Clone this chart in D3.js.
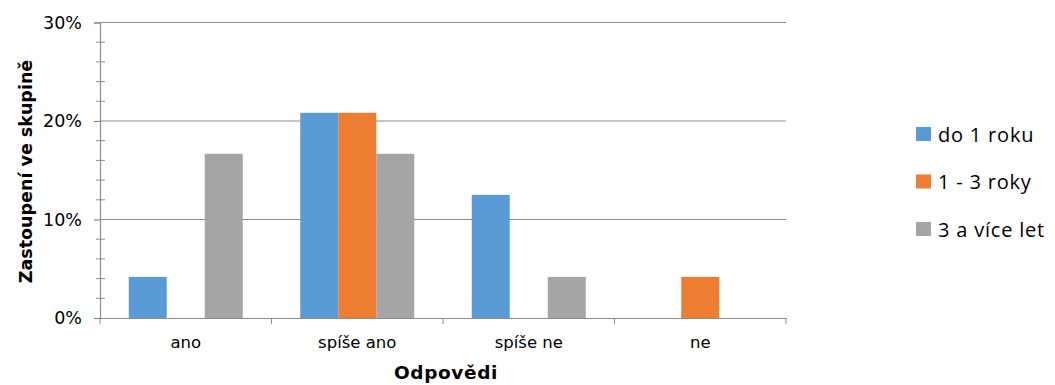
<!DOCTYPE html>
<html>
<head>
<meta charset="utf-8">
<script src="https://cdn.jsdelivr.net/npm/d3@7"></script>
<style>
  body { margin: 0; background: #fff; }
  svg { display: block; }
</style>
</head>
<body>
<svg id="chart" width="1055" height="385"></svg>
<script>
// Answer categories and the share of each group (percent)
const categories = ["ano", "spíše ano", "spíše ne", "ne"];
const seriesNames = ["do 1 roku", "1 - 3 roky", "3 a více let"];
const doJednohoRoku = [4.17, 20.83, 12.5, 0];
const jednoAzTriRoky = [0, 20.83, 0, 4.17];
const triAViceLet = [16.67, 16.67, 4.17, 0];
const yTicks = [0, 10, 20, 30];
const colors = ["#5B9BD5", "#ED7D31", "#A5A5A5"];

const seriesValues = [doJednohoRoku, jednoAzTriRoky, triAViceLet];

const svg = d3.select("#chart");
const plotLeft = 100, plotRight = 786, plotTop = 22.5, plotBottom = 318;
const axisFont = "'DejaVu Sans', 'Lato', sans-serif";
const gridColor = "#8c8c8c";

const x = d3.scaleBand().domain(categories).range([plotLeft, plotRight]).paddingInner(0).paddingOuter(0);
const groupW = x.bandwidth() * (114 / 171.5);
const xInner = d3.scaleBand().domain(seriesNames).range([0, groupW]).padding(0);
const y = d3.scaleLinear().domain([0, 30]).range([plotBottom, plotTop]);

// Horizontal gridlines
svg.append("g")
  .selectAll("line")
  .data(yTicks.filter(d => d > 0))
  .join("line")
  .attr("x1", plotLeft).attr("x2", plotRight)
  .attr("y1", d => y(d)).attr("y2", d => y(d))
  .attr("stroke", gridColor).attr("stroke-width", 1.2);

// Minor ticks every 2 %, crossing the axis
svg.append("g")
  .selectAll("line")
  .data(d3.range(2, 30, 2).filter(d => d % 10 !== 0))
  .join("line")
  .attr("x1", plotLeft - 4).attr("x2", plotLeft + 5)
  .attr("y1", d => y(d)).attr("y2", d => y(d))
  .attr("stroke", gridColor);

// Bars
const groups = svg.append("g")
  .selectAll("g")
  .data(categories)
  .join("g")
  .attr("transform", d => `translate(${x(d) + (x.bandwidth() - groupW) / 2},0)`);

groups.selectAll("rect")
  .data((c, i) => seriesNames.map((s, k) => ({ s, k, v: seriesValues[k][i] })).filter(d => d.v > 0))
  .join("rect")
  .attr("x", d => xInner(d.s))
  .attr("width", xInner.bandwidth())
  .attr("y", d => y(d.v))
  .attr("height", d => y(0) - y(d.v))
  .attr("fill", d => colors[d.k]);

// Y axis
const yAxis = d3.axisLeft(y).tickValues(yTicks).tickFormat(d => d + "%").tickSize(6).tickPadding(12);
const gy = svg.append("g").attr("transform", `translate(${plotLeft},0)`).call(yAxis);
gy.select(".domain").attr("stroke", gridColor).attr("stroke-width", 1.2);
gy.selectAll(".tick line").attr("stroke", gridColor).attr("stroke-width", 1.2);
gy.selectAll("text").attr("font-family", axisFont).attr("font-size", 17.5).attr("fill", "#000");

// X axis
const xAxis = d3.axisBottom(x).tickSize(0).tickPadding(18);
const gx = svg.append("g").attr("transform", `translate(0,${plotBottom})`).call(xAxis);
gx.select(".domain").attr("stroke", gridColor).attr("stroke-width", 1.2);
gx.selectAll("text").attr("font-family", axisFont).attr("font-size", 16.5).attr("fill", "#000");
// Category separator ticks
svg.append("g")
  .selectAll("line")
  .data(categories.concat(["end"]))
  .join("line")
  .attr("x1", (d, i) => i < categories.length ? x(d) : plotRight)
  .attr("x2", (d, i) => i < categories.length ? x(d) : plotRight)
  .attr("y1", plotBottom).attr("y2", plotBottom + 6)
  .attr("stroke", gridColor);

// Axis titles
svg.append("text")
  .attr("x", (plotLeft + plotRight) / 2 + 3).attr("y", 379)
  .attr("text-anchor", "middle")
  .attr("font-family", axisFont).attr("font-weight", "bold").attr("font-size", 18.5)
  .attr("letter-spacing", 0.6)
  .text("Odpovědi");

svg.append("text")
  .attr("transform", `translate(32,171.5) rotate(-90)`)
  .attr("text-anchor", "middle")
  .attr("font-family", axisFont).attr("font-weight", "bold").attr("font-size", 17.5)
  .text("Zastoupení ve skupině");

// Legend
const legend = svg.append("g")
  .selectAll("g")
  .data(seriesNames)
  .join("g")
  .attr("transform", (d, i) => `translate(916,${134 + i * 47.5})`);
legend.append("rect")
  .attr("x", 0).attr("y", -7).attr("width", 15).attr("height", 14)
  .attr("fill", (d, i) => colors[i]);
legend.append("text")
  .attr("x", 22).attr("y", 7.5)
  .attr("font-family", "'Open Sans', 'Liberation Sans', sans-serif")
  .attr("font-size", 20)
  .attr("letter-spacing", 0.8)
  .text(d => d);
</script>
</body>
</html>
